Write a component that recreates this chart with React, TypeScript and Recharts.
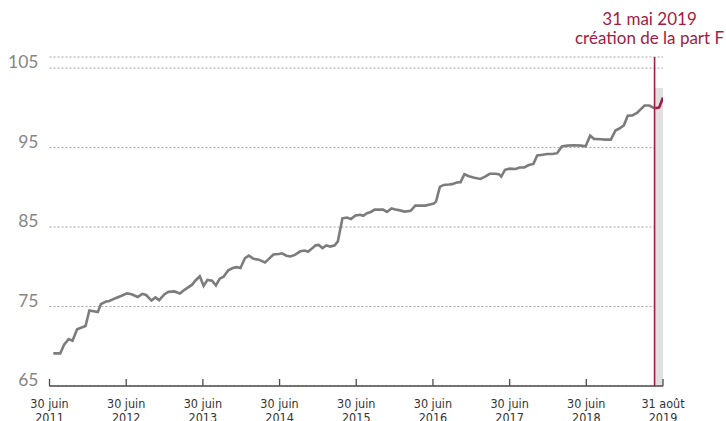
import React from 'react';
import { LineChart, Line, XAxis, YAxis, CartesianGrid, ReferenceLine, ReferenceArea } from 'recharts';

const mainDates = [
  2011.55, 2011.64, 2011.69, 2011.75, 2011.8, 2011.86, 2011.97, 2012.02, 2012.13, 2012.17,
  2012.23, 2012.28, 2012.36, 2012.44, 2012.51, 2012.57, 2012.65, 2012.71, 2012.76, 2012.83,
  2012.88, 2012.93, 2013.0, 2013.05, 2013.13, 2013.2, 2013.26, 2013.36, 2013.4, 2013.46,
  2013.51, 2013.56, 2013.62, 2013.67, 2013.72, 2013.77, 2013.83, 2013.89, 2013.94, 2013.99,
  2014.05, 2014.1, 2014.16, 2014.23, 2014.31, 2014.35, 2014.42, 2014.49, 2014.53, 2014.59,
  2014.64, 2014.7, 2014.77, 2014.83, 2014.87, 2014.93, 2014.97, 2015.01, 2015.06, 2015.11,
  2015.16, 2015.22, 2015.26, 2015.32, 2015.38, 2015.43, 2015.49, 2015.55, 2015.59, 2015.64,
  2015.69, 2015.74, 2015.8, 2015.85, 2015.9, 2015.96, 2016.01, 2016.07, 2016.13, 2016.21,
  2016.27, 2016.34, 2016.4, 2016.46, 2016.51, 2016.54, 2016.59, 2016.64, 2016.71, 2016.75,
  2016.81, 2016.86, 2016.91, 2016.97, 2017.04, 2017.12, 2017.18, 2017.24, 2017.31, 2017.36,
  2017.39, 2017.44, 2017.5, 2017.58, 2017.63, 2017.69, 2017.75, 2017.81, 2017.86, 2017.93,
  2017.99, 2018.06, 2018.12, 2018.18, 2018.25, 2018.34, 2018.43, 2018.49, 2018.55, 2018.6,
  2018.69, 2018.75, 2018.82, 2018.88, 2018.93, 2018.99, 2019.04, 2019.1, 2019.16, 2019.26,
  2019.32, 2019.37, 2019.4,
];
const mainValues = [
  69.1, 69.1, 70.2, 70.9, 70.7, 72.15, 72.55, 74.5, 74.3, 75.3,
  75.6, 75.7, 76.05, 76.35, 76.65, 76.55, 76.2, 76.6, 76.45, 75.75,
  76.15, 75.8, 76.55, 76.85, 76.9, 76.65, 77.1, 77.75, 78.25, 78.8,
  77.6, 78.35, 78.25, 77.65, 78.5, 78.75, 79.55, 79.85, 79.95, 79.85,
  81.1, 81.4, 81.0, 80.9, 80.55, 80.9, 81.55, 81.6, 81.7, 81.4,
  81.3, 81.5, 81.95, 82.05, 81.9, 82.35, 82.7, 82.75, 82.35, 82.7,
  82.55, 82.7, 83.2, 86.1, 86.2, 86.0, 86.45, 86.55, 86.42, 86.75,
  86.9, 87.2, 87.2, 87.2, 86.9, 87.35, 87.2, 87.1, 86.95, 87.05,
  87.7, 87.7, 87.7, 87.85, 87.95, 88.2, 90.05, 90.3, 90.35, 90.4,
  90.6, 90.65, 91.65, 91.4, 91.2, 91.05, 91.35, 91.7, 91.7, 91.65,
  91.35, 92.2, 92.35, 92.3, 92.5, 92.5, 92.8, 92.95, 94.0, 94.1,
  94.2, 94.2, 94.3, 95.15, 95.25, 95.3, 95.25, 95.15, 96.5, 96.1,
  96.05, 96.0, 96.0, 97.15, 97.4, 97.8, 99.0, 99.05, 99.35, 100.3,
  100.3, 100.05, 99.95,
];

const partFDates = [2019.4, 2019.45, 2019.5];
const partFValues = [99.95, 100.05, 101.3];

const xTicks = [2011.5, 2012.5, 2013.5, 2014.5, 2015.5, 2016.5, 2017.5, 2018.5, 2019.5];
const xTickTop = ['30 juin', '30 juin', '30 juin', '30 juin', '30 juin', '30 juin', '30 juin', '30 juin', '31 août'];
const xTickBottom = ['2011', '2012', '2013', '2014', '2015', '2016', '2017', '2018', '2019'];
const yTicks = [65, 75, 85, 95, 105];

const partFLaunch = 2019.39;
const bandTop = 102.5;
const annotationLines = ['31 mai 2019', 'création de la part F'];

const mainData = mainDates.map((d, i) => ({ x: d, v: mainValues[i] }));
const partFData = partFDates.map((d, i) => ({ x: d, v: partFValues[i] }));

const RED = '#a31a44';
const GREY_LINE = '#7c7c7c';
const LABEL_FONT = "Lato, 'Open Sans', sans-serif";
const NARROW_FONT = "'Liberation Sans Narrow', 'DejaVu Sans Condensed', 'Roboto Condensed', sans-serif";

const XTick = (props: any) => {
  const { x, y, index } = props;
  return (
    <g>
      <line x1={x} x2={x} y1={y - 7} y2={y} stroke="#4d4d4d" strokeWidth={1.3} />
      <text x={x} y={y + 22} textAnchor="middle" fontFamily={NARROW_FONT} fontSize={12.5} fill="#333">
        {xTickTop[index]}
      </text>
      <text x={x} y={y + 35.5} textAnchor="middle" fontFamily={NARROW_FONT} fontSize={12.5} fill="#333">
        {xTickBottom[index]}
      </text>
    </g>
  );
};

const YTick = (props: any) => {
  const { x, y, payload } = props;
  return (
    <text x={x - 11} y={y} textAnchor="end" fontFamily={LABEL_FONT} fontSize={17.5} fill="#868686">
      {payload.value}
    </text>
  );
};

const Annotation = (props: any) => {
  const vb = props.viewBox || {};
  const cx = (vb.x ?? 0) - 5;
  const top = vb.y ?? 0;
  return (
    <g>
      <text x={cx} y={top - 32} textAnchor="middle" fontFamily={LABEL_FONT} fontSize={17} fill={RED}>
        {annotationLines[0]}
      </text>
      <text x={cx} y={top - 13.5} textAnchor="middle" fontFamily={LABEL_FONT} fontSize={17} fill={RED}>
        {annotationLines[1]}
      </text>
    </g>
  );
};

export default function App() {
  return (
    <div style={{ position: 'absolute', left: 0, top: 0, width: 726, height: 421, background: '#fff' }}>
      <LineChart width={726} height={421} margin={{ top: 57, right: 63, left: 0, bottom: 0 }}>
        <CartesianGrid vertical={false} strokeDasharray="2 2" stroke="#a5a5a5" strokeWidth={1} />
        <XAxis
          type="number"
          dataKey="x"
          domain={[2011.5, 2019.5]}
          ticks={xTicks}
          interval={0}
          allowDataOverflow
          height={35}
          tickSize={0}
          tickMargin={0}
          tickLine={false}
          axisLine={{ stroke: '#4d4d4d', strokeWidth: 1.3 }}
          tick={<XTick />}
        />
        <YAxis
          type="number"
          domain={[65, 106.4]}
          ticks={yTicks}
          interval={0}
          allowDataOverflow
          width={49.5}
          tickSize={0}
          tickMargin={0}
          tickLine={false}
          axisLine={false}
          tick={<YTick />}
        />
        <ReferenceArea x1={partFLaunch} x2={2019.5} y1={65} y2={bandTop} fill="#e0e0e0" fillOpacity={1} stroke="none" />
        <Line
          data={mainData}
          dataKey="v"
          type="linear"
          stroke={GREY_LINE}
          strokeWidth={2.6}
          dot={false}
          activeDot={false}
          isAnimationActive={false}
        />
        <Line
          data={partFData}
          dataKey="v"
          type="linear"
          stroke={RED}
          strokeWidth={2.6}
          dot={false}
          activeDot={false}
          isAnimationActive={false}
        />
        <ReferenceLine x={partFLaunch} stroke={RED} strokeWidth={1.6} label={<Annotation />} />
      </LineChart>
    </div>
  );
}
